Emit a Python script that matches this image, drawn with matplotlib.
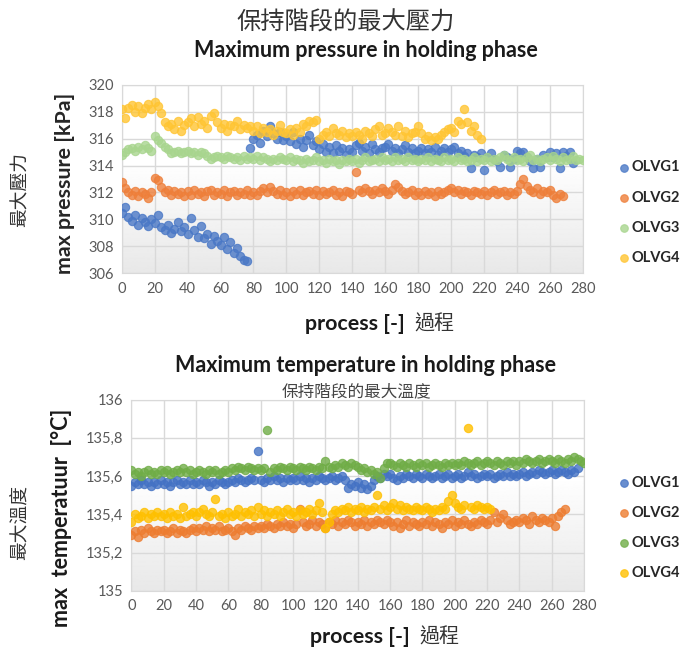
import numpy as np
import matplotlib
matplotlib.use("Agg")
from matplotlib import pyplot as plt
from matplotlib.ticker import FuncFormatter, MultipleLocator

plt.rcParams['font.family'] = ['Lato', 'Noto Sans CJK TC', 'DejaVu Sans']

# values read every 2nd process step, starting at process 0
p_olvg1 = [310.5, 310.9, 310.2, 309.9, 310.3, 309.6, 310.1, 309.8, 309.5, 310.0,
           309.7, 310.3, 309.4, 309.2, 309.6, 309.0, 309.3, 309.8, 309.1, 309.4,
           308.9, 310.1, 309.2, 308.7, 309.5, 308.6, 308.9, 308.2, 308.8, 308.4,
           308.1, 308.7, 307.8, 308.3, 307.5, 307.9, 307.3, 307.0, 306.9,
           315.3, 316.0, 316.3, 315.7, 316.6, 316.2, 316.9, 316.4, 316.0, 316.5, 315.9,
           316.2, 315.8, 316.5, 315.6, 316.0, 315.4, 315.9, 316.3, 315.5, 315.8,
           315.2, 315.6, 315.0, 315.4, 314.9, 315.5, 315.1, 315.3, 314.8, 315.2,
           315.0, 315.5, 315.7, 315.1, 315.4, 314.9, 315.6, 315.2, 315.0, 315.3,
           315.4, 315.6, 315.1, 315.3, 314.9, 315.2, 315.5, 315.0, 315.3, 314.9,
           315.1, 315.3, 314.9, 315.2, 315.0, 315.4, 314.8, 315.1, 315.3, 315.0,
           315.2, 315.4, 314.9, 315.1, 314.7, 314.9, 313.8, 314.8, 314.6, 314.9,
           313.7, 314.6, 314.9, 314.5, 314.3, 313.9, 314.8, 314.6, 313.9, 314.5,
           315.1, 314.9, 315.0, 314.6, 314.3, 313.8, 314.5, 313.9, 314.8, 314.6,
           315.0, 314.6, 314.9, 313.8, 315.0, 314.7, 315.0, 314.2]
p_olvg2 = [312.8, 312.3, 312.0, 311.8, 312.1, 311.7, 312.0, 311.9, 311.6, 312.0,
           313.1, 312.9, 312.4, 312.0, 312.2, 311.8, 312.1, 311.9, 312.0, 311.7,
           312.1, 311.8, 312.2, 311.9, 312.0, 311.7, 312.1, 312.2, 311.8, 312.0,
           311.9, 312.2, 311.7, 312.0, 312.1, 311.8, 312.0, 311.9, 312.2, 311.8,
           312.0, 311.8, 312.1, 312.3, 312.0, 312.4, 312.1, 311.9, 312.2, 311.8,
           312.0, 311.7, 312.1, 311.9, 312.2, 311.8, 312.0, 312.1, 311.9, 312.2,
           311.8, 312.1, 311.9, 312.0, 312.2, 311.8, 312.0, 311.7, 312.1, 312.0,
           311.9, 313.5, 312.2, 312.0, 312.3, 312.1, 311.9, 312.2, 312.0, 312.3,
           312.1, 311.9, 312.2, 312.6, 312.4, 312.1, 311.9, 312.0, 312.2, 311.8,
           312.0, 311.8, 312.1, 311.9, 312.0, 311.7, 312.1, 311.9, 312.0, 312.2,
           312.3, 312.0, 312.2, 311.9, 312.1, 312.0, 311.8, 312.1, 312.0, 311.9,
           312.1, 311.8, 312.0, 312.2, 311.9, 312.0, 312.1, 311.8, 312.0, 311.9,
           312.1, 312.6, 313.0, 312.5, 312.2, 312.0, 312.3, 311.9, 312.1, 312.0,
           312.2, 311.8, 311.6, 311.9, 311.7]
p_olvg3 = [314.8, 315.0, 315.2, 315.3, 315.1, 315.4, 315.2, 315.5, 315.3, 315.1,
           316.2, 315.9, 315.7, 315.4, 315.2, 314.9, 315.0, 315.1, 314.9, 315.0,
           315.1, 314.9, 315.0, 314.8, 315.0, 314.9, 314.7, 314.5, 314.6, 314.7,
           314.6, 314.5, 314.7, 314.6, 314.5, 314.6, 314.4, 314.7, 314.5, 314.6,
           314.5, 314.7, 314.4, 314.6, 314.5, 314.3, 314.5, 314.4, 314.6, 314.5,
           314.4, 314.6, 314.3, 314.5, 314.4, 314.2, 314.5, 314.3, 314.4, 314.6,
           314.3, 314.4, 314.2, 314.5, 314.3, 314.4, 314.1, 314.4, 314.3, 314.5,
           314.3, 314.5, 314.2, 314.4, 314.6, 314.3, 314.4, 314.5, 314.3, 314.6,
           314.4, 314.5, 314.3, 314.6, 314.4, 314.5, 314.3, 314.6, 314.4, 314.5,
           314.3, 314.5, 314.4, 314.6, 314.3, 314.5, 314.4, 314.3, 314.6, 314.4,
           314.5, 314.3, 314.6, 314.4, 314.5, 314.3, 314.4, 314.6, 314.3, 314.5,
           314.4, 314.6, 314.3, 314.5, 314.4, 314.6, 314.8, 314.5, 314.3, 314.6,
           314.4, 314.5, 314.3, 314.6, 314.8, 314.4, 314.5, 314.3, 314.5, 314.6,
           314.4, 314.7, 314.5, 314.3, 314.6, 314.4, 314.5, 314.7, 314.4, 314.5,
           314.4]
p_olvg4 = [318.2, 317.5, 318.3, 318.5, 318.0, 318.4, 317.9, 318.3, 318.6, 318.2,
           318.7, 318.4, 317.9, 317.2, 316.9, 317.1, 316.7, 317.3, 316.6, 317.0,
           317.2, 317.5, 316.9, 317.6, 317.1, 317.3, 316.8, 317.7, 317.9, 317.2,
           316.8, 317.1, 316.6, 317.0, 316.9, 317.3, 316.7, 317.0, 316.8, 316.9,
           316.6, 316.9, 316.4, 316.8, 316.5, 316.7, 316.3, 316.6, 317.0, 316.5,
           316.4, 316.7, 316.3, 316.8, 316.5, 317.1, 316.9, 317.3, 317.2, 317.4,
           316.0, 316.3, 316.5, 316.2, 316.8, 316.4, 316.3, 316.6, 316.1, 316.4,
           316.2, 316.5, 316.3, 316.0, 316.6, 316.4, 316.2, 316.7, 316.9, 316.3,
           316.4, 316.8, 316.5, 316.3, 316.9, 316.2, 316.6, 316.1, 316.4, 316.5,
           316.9, 316.4, 316.0, 316.2, 315.9, 316.1, 316.0, 316.3, 316.5, 316.7,
           316.8, 316.5, 317.3, 317.1, 318.2, 317.2, 316.6, 316.9, 316.3, 316.0]

t_olvg1 = [135.55, 135.57, 135.56, 135.58, 135.56, 135.57, 135.55, 135.57, 135.56, 135.58,
           135.56, 135.57, 135.55, 135.57, 135.58, 135.56, 135.57, 135.56, 135.58, 135.56,
           135.57, 135.56, 135.58, 135.57, 135.55, 135.57, 135.56, 135.58, 135.57, 135.56,
           135.57, 135.58, 135.57, 135.59, 135.58, 135.57, 135.58, 135.59, 135.58, 135.73,
           135.58, 135.57, 135.59, 135.58, 135.60, 135.58, 135.59, 135.57, 135.59, 135.58,
           135.59, 135.58, 135.60, 135.58, 135.59, 135.57, 135.59, 135.58, 135.60, 135.59,
           135.58, 135.59, 135.60, 135.58, 135.59, 135.60, 135.58, 135.54, 135.56, 135.55,
           135.57, 135.54, 135.56, 135.53, 135.55, 135.58, 135.60, 135.59, 135.61, 135.60,
           135.61, 135.59, 135.58, 135.60, 135.59, 135.61, 135.60, 135.59, 135.61, 135.60,
           135.59, 135.61, 135.60, 135.59, 135.60, 135.61, 135.59, 135.60, 135.61, 135.59,
           135.60, 135.61, 135.59, 135.60, 135.62, 135.60, 135.61, 135.59, 135.60, 135.61,
           135.60, 135.61, 135.59, 135.60, 135.61, 135.60, 135.62, 135.60, 135.61, 135.60,
           135.61, 135.62, 135.60, 135.61, 135.62, 135.61, 135.63, 135.62, 135.61, 135.62,
           135.63, 135.61, 135.62, 135.63, 135.62, 135.61, 135.63, 135.62, 135.64]
t_olvg2 = [135.29, 135.31, 135.28, 135.32, 135.30, 135.33, 135.31, 135.30, 135.32, 135.31,
           135.32, 135.30, 135.31, 135.33, 135.30, 135.32, 135.31, 135.30, 135.32, 135.33,
           135.31, 135.33, 135.32, 135.34, 135.31, 135.33, 135.32, 135.34, 135.31, 135.32,
           135.33, 135.31, 135.29, 135.33, 135.32, 135.34, 135.33, 135.32, 135.34, 135.33,
           135.34, 135.33, 135.35, 135.34, 135.33, 135.35, 135.34, 135.36, 135.34, 135.35,
           135.33, 135.35, 135.43, 135.36, 135.34, 135.35, 135.37, 135.34, 135.36, 135.35,
           135.33, 135.36, 135.35, 135.37, 135.34, 135.36, 135.35, 135.37, 135.36, 135.34,
           135.36, 135.35, 135.37, 135.34, 135.36, 135.35, 135.37, 135.36, 135.35, 135.37,
           135.36, 135.34, 135.36, 135.33, 135.35, 135.37, 135.34, 135.36, 135.35, 135.34,
           135.36, 135.35, 135.37, 135.34, 135.36, 135.35, 135.33, 135.36, 135.35, 135.37,
           135.34, 135.36, 135.35, 135.37, 135.35, 135.34, 135.36, 135.35, 135.37, 135.36,
           135.35, 135.37, 135.41, 135.36, 135.38, 135.40, 135.37, 135.35, 135.36, 135.37,
           135.36, 135.38, 135.37, 135.35, 135.39, 135.37, 135.36, 135.38, 135.37, 135.36,
           135.38, 135.34, 135.39, 135.41, 135.43]
t_olvg3 = [135.63, 135.61, 135.62, 135.60, 135.62, 135.63, 135.61, 135.62, 135.61, 135.63,
           135.62, 135.63, 135.61, 135.62, 135.63, 135.62, 135.64, 135.62, 135.63, 135.61,
           135.62, 135.63, 135.62, 135.61, 135.63, 135.62, 135.63, 135.61, 135.62, 135.63,
           135.62, 135.64, 135.63, 135.65, 135.64, 135.63, 135.65, 135.64, 135.63, 135.64,
           135.63, 135.64, 135.84, 135.62, 135.64, 135.63, 135.65, 135.64, 135.63, 135.65,
           135.64, 135.63, 135.65, 135.64, 135.63, 135.65, 135.64, 135.63, 135.65, 135.64,
           135.68, 135.65, 135.64, 135.66, 135.65, 135.67, 135.66, 135.65, 135.67, 135.66,
           135.65, 135.63, 135.64, 135.62, 135.63, 135.61, 135.62, 135.59, 135.64, 135.67,
           135.67, 135.66, 135.65, 135.67, 135.66, 135.65, 135.67, 135.66, 135.65, 135.67,
           135.66, 135.67, 135.65, 135.66, 135.67, 135.66, 135.65, 135.67, 135.66, 135.67,
           135.66, 135.67, 135.66, 135.68, 135.67, 135.66, 135.67, 135.68, 135.66, 135.67,
           135.68, 135.67, 135.66, 135.68, 135.67, 135.66, 135.68, 135.67, 135.68, 135.66,
           135.68, 135.67, 135.69, 135.68, 135.67, 135.68, 135.69, 135.67, 135.68, 135.69,
           135.68, 135.67, 135.69, 135.68, 135.67, 135.69, 135.68, 135.70, 135.69, 135.68,
           135.67]
t_olvg4 = [135.36, 135.40, 135.38, 135.39, 135.41, 135.38, 135.40, 135.39, 135.41, 135.39,
           135.40, 135.38, 135.41, 135.39, 135.40, 135.38, 135.44, 135.39, 135.40, 135.41,
           135.39, 135.41, 135.43, 135.40, 135.39, 135.41, 135.48, 135.39, 135.40, 135.38,
           135.41, 135.39, 135.40, 135.43, 135.39, 135.41, 135.40, 135.42, 135.39, 135.44,
           135.40, 135.42, 135.39, 135.41, 135.40, 135.42, 135.39, 135.41, 135.43, 135.40,
           135.41, 135.39, 135.42, 135.40, 135.41, 135.43, 135.40, 135.42, 135.46, 135.41,
           135.33, 135.36, 135.40, 135.42, 135.41, 135.43, 135.42, 135.44, 135.41, 135.43,
           135.42, 135.44, 135.41, 135.43, 135.42, 135.44, 135.50, 135.43, 135.45, 135.42,
           135.44, 135.46, 135.43, 135.45, 135.42, 135.44, 135.43, 135.42, 135.44, 135.43,
           135.42, 135.44, 135.43, 135.41, 135.43, 135.42, 135.44, 135.43, 135.47, 135.50,
           135.46, 135.44, 135.43, 135.45, 135.85, 135.44, 135.43, 135.45, 135.44, 135.43,
           135.44, 135.43]

labels = ["OLVG1", "OLVG2", "OLVG3", "OLVG4"]
colors_top = ["#4a78c6", "#ee7f3a", "#a8d58e", "#ffc533"]
colors_bot = ["#4472c4", "#ed7d31", "#70ad47", "#ffc000"]


def process_axis(values):
    return np.arange(0, 2 * len(values), 2)


def style_axes(ax, ymin, ymax, ystep, fmt):
    ax.set_xlim(0, 280)
    ax.set_ylim(ymin, ymax)
    ax.xaxis.set_major_locator(MultipleLocator(20))
    ax.yaxis.set_major_locator(MultipleLocator(ystep))
    ax.yaxis.set_major_formatter(FuncFormatter(fmt))
    ax.grid(True, color="#d9d9d9", linewidth=1.0)
    ax.set_axisbelow(True)
    for s in ax.spines.values():
        s.set_color("#d9d9d9")
    ax.tick_params(length=0, labelsize=10.5, colors="#595959", pad=6)
    # soft grey fade at the bottom of the plot area
    fade = np.concatenate([np.linspace(0.91, 1.0, 120), np.ones(80)]).reshape(-1, 1)
    ax.imshow(fade, extent=[0, 1, 0, 1], transform=ax.transAxes, origin="lower",
              cmap="gray", vmin=0, vmax=1, aspect="auto", zorder=0)


fig = plt.figure(figsize=(6.88, 6.52), dpi=100)

# ---- pressure ----
ax1 = fig.add_axes([0.177, 0.581, 0.670, 0.289])
for vals, c, lab in zip([p_olvg1, p_olvg2, p_olvg3, p_olvg4], colors_top, labels):
    ax1.scatter(process_axis(vals), vals, s=36, color=c, alpha=0.8,
                edgecolors=c, linewidths=0.8, label=lab, zorder=3)
style_axes(ax1, 306, 320, 2, lambda v, pos: f"{v:g}")

# ---- temperature ----
ax2 = fig.add_axes([0.191, 0.094, 0.658, 0.293])
for vals, c, lab in zip([t_olvg1, t_olvg2, t_olvg3, t_olvg4], colors_bot, labels):
    ax2.scatter(process_axis(vals), vals, s=36, color=c, alpha=0.8,
                edgecolors=c, linewidths=0.8, label=lab, zorder=3)
style_axes(ax2, 135, 136, 0.2, lambda v, pos: f"{round(v, 1):g}".replace(".", ","))

# legends (figure coordinates)
for ax, ycen, sp in [(ax1, 0.674, 1.1), (ax2, 0.19, 1.1)]:
    leg = fig.legend(*ax.get_legend_handles_labels(), loc="center left",
                     bbox_to_anchor=(0.89, ycen), frameon=False, borderpad=0,
                     handletextpad=0.2, handlelength=0.6, labelspacing=sp,
                     prop={"family": "Lato", "weight": "bold", "size": 10.5})
    for h in leg.legend_handles:
        h.set_sizes([30])
    for t in leg.get_texts():
        t.set_color("#262626")

# titles
fig.text(0.502, 0.966, "保持階段的最大壓力", ha="center", va="center",
         fontsize=17.5, color="#333333", family=["Noto Sans CJK TC"], weight="light")
fig.text(0.532, 0.922, "Maximum pressure in holding phase", ha="center", va="center",
         fontsize=15.5, weight="bold", color="#1a1a1a")
fig.text(0.531, 0.439, "Maximum temperature in holding phase", ha="center", va="center",
         fontsize=15.5, weight="bold", color="#1a1a1a")
fig.text(0.518, 0.399, "保持階段的最大溫度", ha="center", va="center",
         fontsize=12, color="#444444", family=["Noto Sans CJK TC"], weight="light")

# axis labels
fig.text(0.094, 0.719, "max pressure [kPa]", rotation=90, ha="center", va="center",
         fontsize=15.4, weight="bold", color="#262626")
fig.text(0.029, 0.709, "最大壓力", rotation=90, ha="center", va="center",
         fontsize=13.5, color="#333333", family=["Noto Sans CJK TC"])
fig.text(0.090, 0.206, "max  temperatuur  [°C]", rotation=90, ha="center", va="center",
         fontsize=15.5, weight="bold", color="#1a1a1a")
fig.text(0.029, 0.198, "最大溫度", rotation=90, ha="center", va="center",
         fontsize=13.5, color="#333333", family=["Noto Sans CJK TC"])

fig.text(0.588, 0.503, "process [-]", ha="right", va="center",
         fontsize=15.4, weight="bold", color="#1a1a1a")
fig.text(0.603, 0.503, "過程", ha="left", va="center",
         fontsize=14.4, color="#333333", family=["Noto Sans CJK TC"])
fig.text(0.595, 0.023, "process [-]", ha="right", va="center",
         fontsize=15.4, weight="bold", color="#1a1a1a")
fig.text(0.609, 0.023, "過程", ha="left", va="center",
         fontsize=14.4, color="#333333", family=["Noto Sans CJK TC"])

fig.savefig("out.png", dpi=100, facecolor="white")
